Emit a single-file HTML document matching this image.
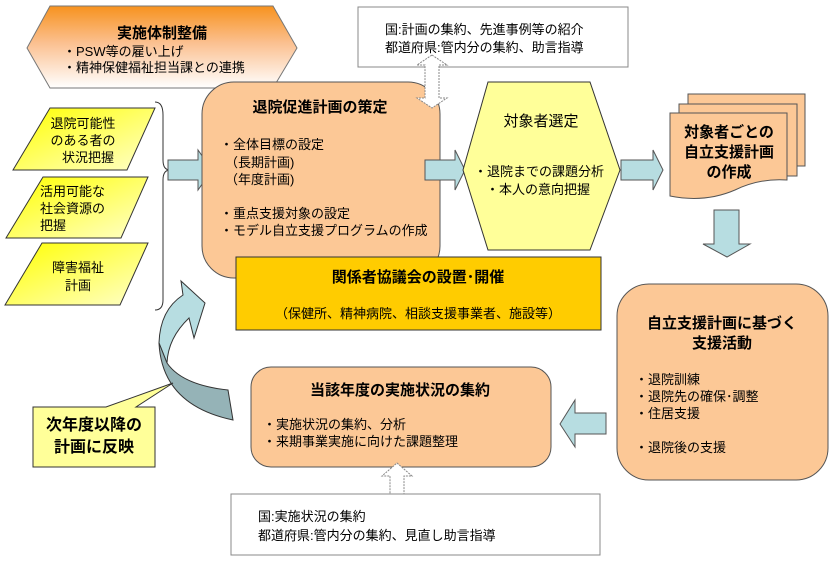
<!DOCTYPE html>
<html><head><meta charset="utf-8"><style>
body{margin:0;background:#fff;}
svg{display:block;font-family:"Liberation Sans","Noto Sans CJK JP",sans-serif;}
</style></head><body>
<svg width="830" height="562" viewBox="0 0 830 562" xmlns="http://www.w3.org/2000/svg">
<defs>
<linearGradient id="og" x1="0" y1="0" x2="0" y2="1"><stop offset="0" stop-color="#f7921e"/><stop offset="0.45" stop-color="#fbc090"/><stop offset="1" stop-color="#fff"/></linearGradient>
<linearGradient id="yg" x1="0" y1="0" x2="1" y2="1"><stop offset="0" stop-color="#ffff00"/><stop offset="1" stop-color="#ffffcc"/></linearGradient>
</defs>
<polygon points="27,48 50,6 273,6 297,48 273,88 50,88" fill="url(#og)" stroke="#777" stroke-width="1"/>
<text x="162" y="38" font-size="15" font-weight="bold" text-anchor="middle">実施体制整備</text>
<text x="63" y="56" font-size="13">・PSW等の雇い上げ</text>
<text x="63" y="72" font-size="13">・精神保健福祉担当課との連携</text>
<rect x="358" y="7" width="270" height="60" fill="#fff" stroke="#888"/>
<text x="385" y="34" font-size="13">国:計画の集約、先進事例等の紹介</text>
<text x="385" y="52" font-size="13">都道府県:管内分の集約、助言指導</text>
<polygon points="50,108 155,108 127,170 13,170" fill="url(#yg)" stroke="#333"/>
<text x="83" y="128" font-size="13" text-anchor="middle">退院可能性</text>
<text x="83" y="145" font-size="13" text-anchor="middle">のある者の</text>
<text x="88" y="162" font-size="13" text-anchor="middle">状況把握</text>
<polygon points="43,177 148,177 121,238 6,238" fill="url(#yg)" stroke="#333"/>
<text x="40" y="196" font-size="13">活用可能な</text>
<text x="40" y="213" font-size="13">社会資源の</text>
<text x="40" y="230" font-size="13">把握</text>
<polygon points="42,243 148,243 120,305 5,305" fill="url(#yg)" stroke="#333"/>
<text x="78" y="272" font-size="13" text-anchor="middle">障害福祉</text>
<text x="78" y="290" font-size="13" text-anchor="middle">計画</text>
<path d="M155,102 Q163,102 163,115 L163,160 Q163,170 170,170 Q163,170 163,180 L163,300 Q163,310 155,310" fill="none" stroke="#333"/>
<polygon points="168,160 198,160 198,150 212,170 198,190 198,180 168,180" fill="#b7dde1" stroke="#555"/>
<rect x="202" y="82" width="238" height="196" rx="32" fill="#fcc896" stroke="#555"/>
<text x="320" y="112" font-size="15" font-weight="bold" text-anchor="middle">退院促進計画の策定</text>
<text x="220" y="149" font-size="13">・全体目標の設定</text>
<text x="225" y="167" font-size="13">（長期計画)</text>
<text x="225" y="184" font-size="13">（年度計画)</text>
<text x="220" y="218" font-size="13">・重点支援対象の設定</text>
<text x="220" y="235" font-size="13">・モデル自立支援プログラムの作成</text>
<polygon points="432,55 447,65 439,65 439,98 447,98 432,108 417,98 425,98 425,65 417,65" fill="#fff" stroke="#888" stroke-dasharray="2,1"/>
<rect x="236" y="257" width="365" height="73" fill="#ffcc00" stroke="#333"/>
<text x="418" y="282" font-size="15" font-weight="bold" text-anchor="middle">関係者協議会の設置･開催</text>
<text x="418" y="318" font-size="13" text-anchor="middle">（保健所、精神病院、相談支援事業者、施設等）</text>
<polygon points="425,160 455,160 455,150 465,170 455,190 455,180 425,180" fill="#b7dde1" stroke="#555"/>
<polygon points="463,170 488,82 590,82 620,170 590,250 488,250" fill="#ffff99" stroke="#333"/>
<text x="541" y="126" font-size="15" text-anchor="middle">対象者選定</text>
<text x="474" y="176" font-size="13">・退院までの課題分析</text>
<text x="486" y="194" font-size="13">・本人の意向把握</text>
<polygon points="621,160 653,160 653,150 663,170 653,190 653,180 621,180" fill="#b7dde1" stroke="#555"/>
<rect x="688" y="94" width="117" height="72" fill="#fcc896" stroke="#555"/>
<rect x="679" y="104" width="118" height="72" fill="#fcc896" stroke="#555"/>
<path d="M670,113 L787,113 L787,180 Q760,178 735,190 Q705,203 670,196 Z" fill="#fcc896" stroke="#555"/>
<text x="729" y="137" font-size="15" font-weight="bold" text-anchor="middle">対象者ごとの</text>
<text x="729" y="157" font-size="15" font-weight="bold" text-anchor="middle">自立支援計画</text>
<text x="729" y="177" font-size="15" font-weight="bold" text-anchor="middle">の作成</text>
<polygon points="714,210 739,210 739,244 750,244 727,257 703,244 714,244" fill="#b7dde1" stroke="#555"/>
<rect x="617" y="284" width="211" height="196" rx="32" fill="#fcc896" stroke="#555"/>
<text x="722" y="328" font-size="15" font-weight="bold" text-anchor="middle">自立支援計画に基づく</text>
<text x="722" y="348" font-size="15" font-weight="bold" text-anchor="middle">支援活動</text>
<text x="635" y="384" font-size="13">・退院訓練</text>
<text x="635" y="401" font-size="13">・退院先の確保･調整</text>
<text x="635" y="418" font-size="13">・住居支援</text>
<text x="635" y="452" font-size="13">・退院後の支援</text>
<polygon points="606,413 575,413 575,400 560,424 575,447 575,434 606,434" fill="#b7dde1" stroke="#555"/>
<rect x="251" y="367" width="300" height="100" rx="20" fill="#fcc896" stroke="#555"/>
<text x="400" y="395" font-size="15" font-weight="bold" text-anchor="middle">当該年度の実施状況の集約</text>
<text x="263" y="429" font-size="13">・実施状況の集約、分析</text>
<text x="263" y="446" font-size="13">・来期事業実施に向けた課題整理</text>
<polygon points="397,463 412,476 404,476 404,496 412,496 397,508 382,496 390,496 390,476 382,476" fill="#fff" stroke="#888" stroke-dasharray="2,1"/>
<rect x="231" y="494" width="369" height="61" fill="#fff" stroke="#888"/>
<text x="258" y="521" font-size="13">国:実施状況の集約</text>
<text x="258" y="540" font-size="13">都道府県:管内分の集約、見直し助言指導</text>
<path d="M181,281 L205,303 L194,338 L189,318 Q168,338 167,363 L159,343 Q160,310 183,295 Z" fill="#b7dde1" stroke="#333"/>
<path d="M159,343 Q162,405 233,420 L228,390 Q182,385 167,363 Z" fill="#95b3b7" stroke="#333"/>
<polygon points="33,407 106,407 173,383 136,407 155,407 155,467 33,467" fill="#ffff99" stroke="#333"/>
<text x="94" y="430" font-size="16" font-weight="bold" text-anchor="middle">次年度以降の</text>
<text x="94" y="452" font-size="16" font-weight="bold" text-anchor="middle">計画に反映</text>
</svg>
</body></html>
